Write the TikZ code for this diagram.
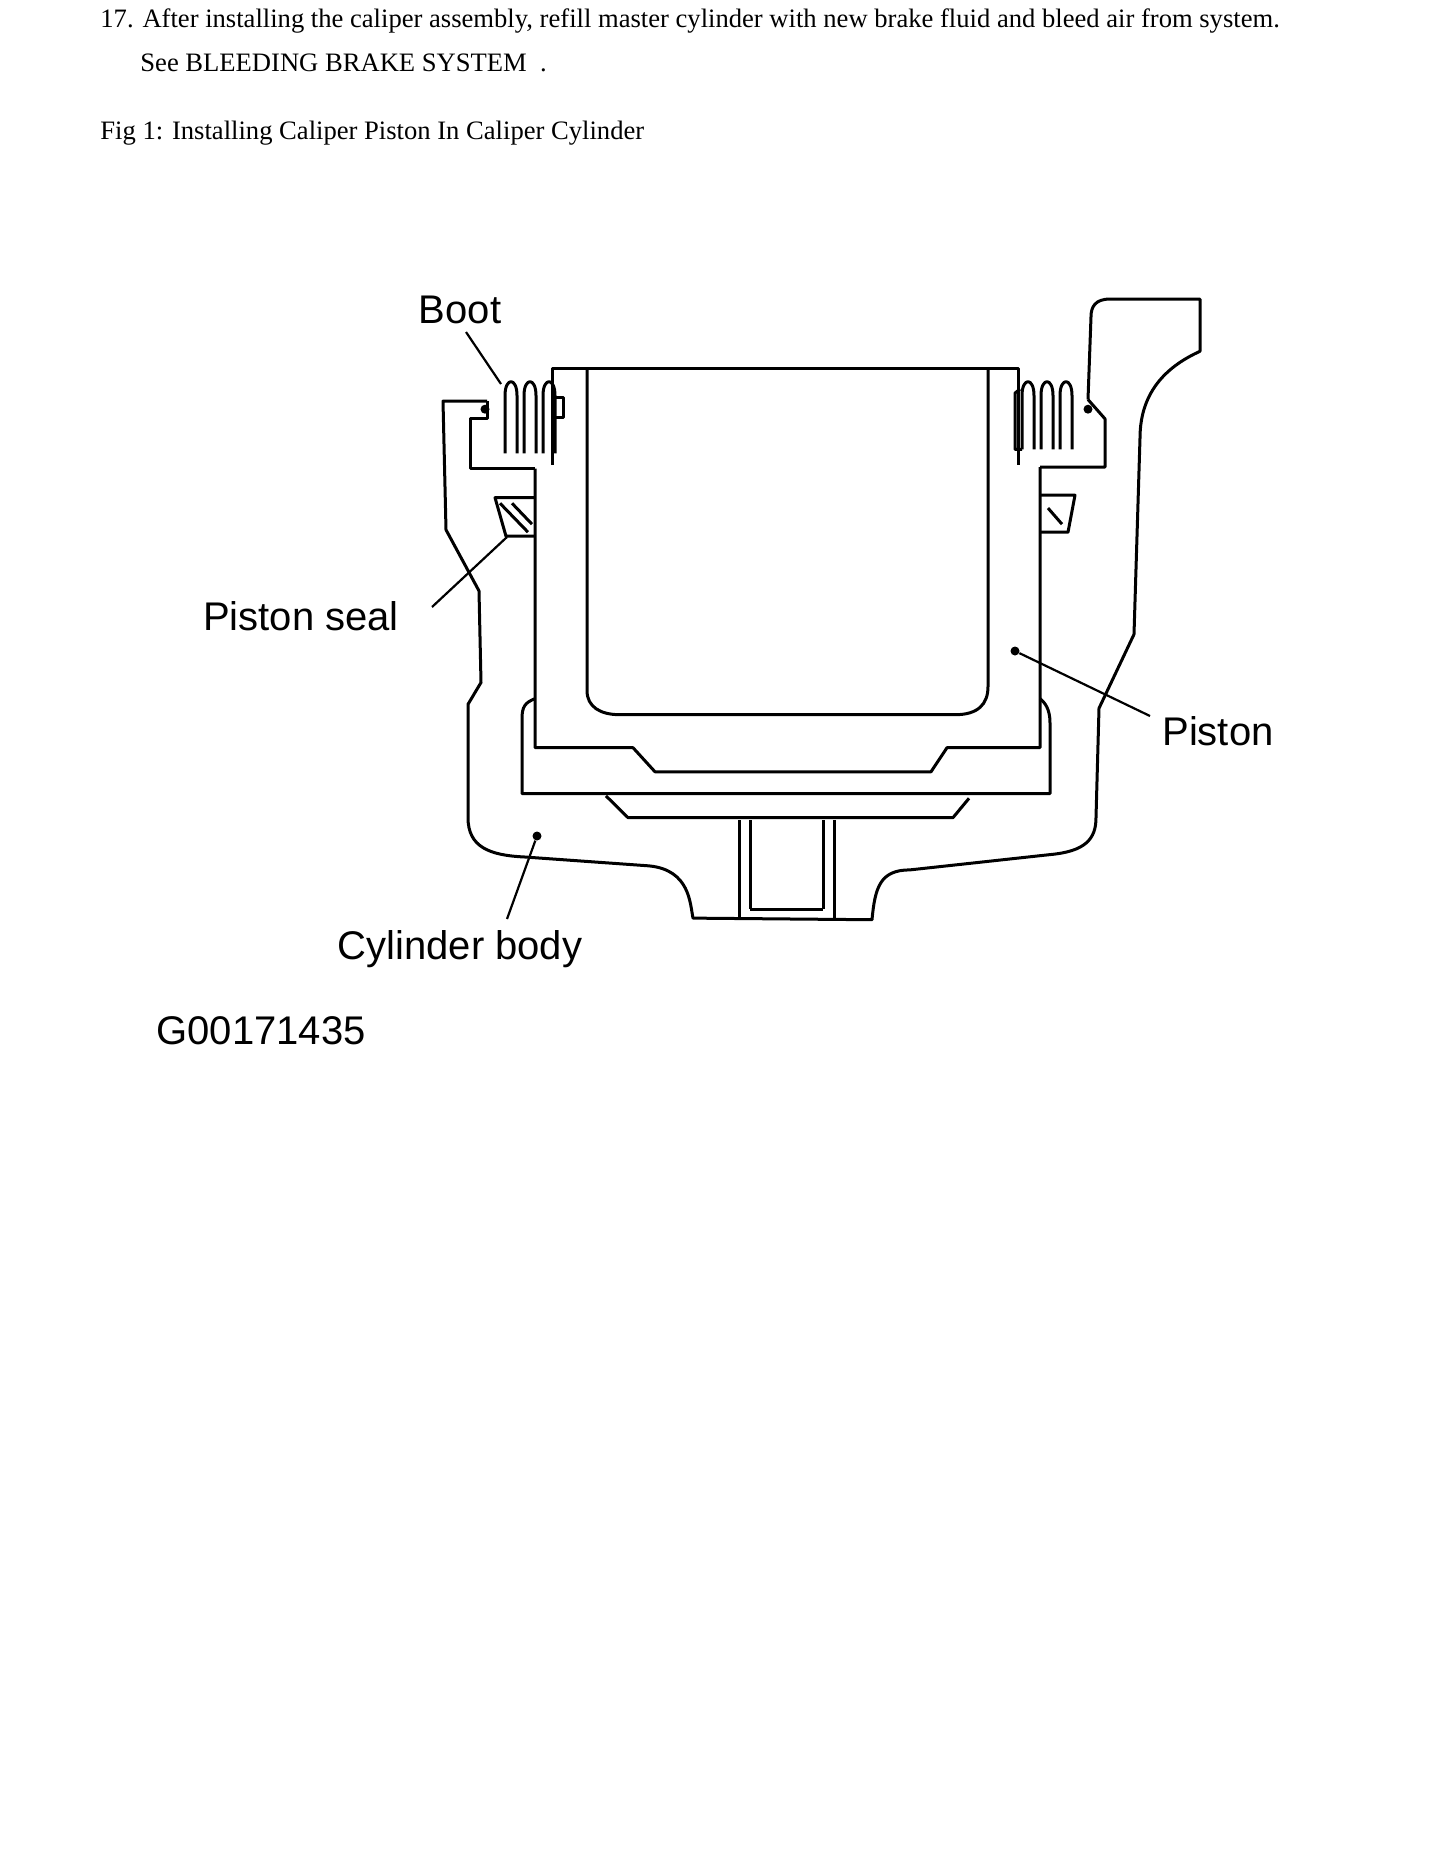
\documentclass[tikz,border=0pt]{standalone}
\usepackage{fontspec}
\setmainfont{Liberation Serif}
\setsansfont{Liberation Sans}
\begin{document}
\begin{tikzpicture}[x=0.5pt,y=-0.5pt,
  part/.style={line width=1.5pt,line join=round},
  lbl/.style={font=\sffamily\fontsize{20}{22}\selectfont,inner sep=0pt},
  body/.style={font=\fontsize{13.3}{16}\selectfont,inner sep=0pt,anchor=west},
  lead/.style={line width=1.1pt},
  dot/.style={circle,fill,inner sep=0pt,minimum size=4.5pt}]
\useasboundingbox (0,0) rectangle (1445,1870);
\node[body] (t1) at (100,21) {17. After installing the caliper assembly, refill master cylinder with new brake fluid and bleed air from system.};
\node[body] (t2) at (140,63) {See BLEEDING BRAKE SYSTEM\ \ .};
\node[body] (t3) at (100,133) {Fig 1: Installing Caliper Piston In Caliper Cylinder};
\begin{scope}[shift={(0,51.4)},yscale=0.804]
% cylinder body outline
\draw[part] (487,435) -- (443,435) -- (446,595) -- (479,671) -- (481,785) -- (468,812) -- (468,953)
  .. controls (468,990) and (490,1000) .. (525,1002) -- (649,1013)
  .. controls (690,1018) and (690,1060) .. (693,1078) -- (872,1080)
  .. controls (875,1040) and (880,1018) .. (910,1018) -- (1050,999)
  .. controls (1085,995) and (1096,980) .. (1096,953) -- (1099,817) -- (1134,725) -- (1140,481)
  .. controls (1140,420) and (1170,390) .. (1200,373) -- (1200,308) -- (1110,308)
  .. controls (1095,308) and (1091,318) .. (1091,330) -- (1088,433);
% boot grooves
\draw[part] (487,435) -- (487,457) -- (470,457) -- (470,519) -- (535,519);
\draw[part] (1088,433) -- (1105,457) -- (1105,517) -- (1040,517);
% seal grooves
\draw[part] (535,555) -- (495,555) -- (506,603) -- (535,603);
\draw[part] (1040,552) -- (1075,552) -- (1068,598) -- (1040,598);
\foreach \a in {0,1}{\draw[part] (500+\a*12,562) -- (528+\a*4,598-\a*10);}
\draw[part] (1048,568) -- (1062,588);
% lower groove
\draw[part] (535,805) .. controls (525,810) and (522,815) .. (522,830) -- (522,923) -- (1050,923) -- (1050,835) .. controls (1050,818) and (1045,810) .. (1040,805);
\draw[part] (606,926) -- (628,953) -- (953,953) -- (969,929);
% pipe
\draw[part] (739,956) -- (739,1078) (750,956) -- (750,1067) (823,956) -- (823,1067) (834,956) -- (834,1078) (750,1067) -- (823,1067);
% piston
\draw[part] (552,514) -- (552,394) -- (1018,394) -- (1018,514);
\draw[part] (535,519) -- (535,866) -- (633,866) -- (655,896) -- (931,896) -- (947,866) -- (1040,866) -- (1040,517);
\draw[part] (587,394) -- (587,795) .. controls (587,815) and (600,825) .. (620,825) -- (955,825) .. controls (978,825) and (988,812) .. (988,790) -- (988,394);
% boots
\foreach \x in {505,524,543}{\draw[part] (\x,500) -- (\x,428) .. controls (\x,405) and (\x+12,405) .. (\x+12,428) -- (\x+12,500);}
\draw[part] (555,430) -- (563,430) -- (563,455) -- (552,455);
\foreach \x in {1022,1041,1060}{\draw[part] (\x,495) -- (\x,428) .. controls (\x,405) and (\x+12,405) .. (\x+12,428) -- (\x+12,495);}
\draw[part] (1022,495) -- (1015,495) -- (1015,425) -- (1020,420);
\node[dot] at (485,445) {};
\node[dot] at (1088,445) {};
\end{scope}
% labels
\node[lbl] (boot) at (460,310) {Boot};
\coordinate (bootp) at (501,384);
\draw[lead] (466,332) -- (bootp);
\node[lbl] (seal) at (301,616) {Piston seal};
\coordinate (sealp) at (507,537);
\draw[lead] (432,607) -- (sealp);
\node[lbl] (pist) at (1218,731) {Piston};
\node[dot] (pd) at (1015,651) {};
\draw[lead] (1150,716) -- (pd);
\node[lbl] (cyl) at (460,949) {Cylinder body};
\node[dot] (cd) at (537,836) {};
\draw[lead] (507,919) -- (cd);
\node[font=\sffamily\fontsize{20}{22}\selectfont,inner sep=0pt] (g) at (261,1031) {G00171435};
\end{tikzpicture}
\end{document}
